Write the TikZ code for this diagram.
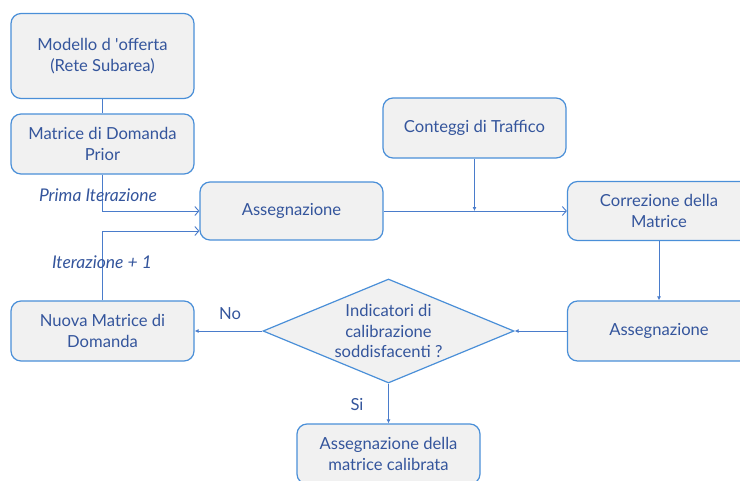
\documentclass[tikz,border=0pt]{standalone}
\usepackage{fontspec}
\setmainfont{Lato}
\usetikzlibrary{shapes.geometric,arrows.meta}
\definecolor{bord}{HTML}{4A8FD8}
\definecolor{linec}{HTML}{4A7CCB}
\definecolor{boxfill}{HTML}{F1F1F1}
\definecolor{txtc}{HTML}{34559C}
\tikzset{
  stepbox/.style={draw=bord, fill=boxfill, line width=1.2pt, rounded corners=10pt,
    minimum width=183pt, minimum height=60pt, align=center, text=txtc,
    font=\fontsize{16.6}{21}\selectfont, inner sep=2pt},
  dia/.style={draw=bord, fill=boxfill, line width=1.2pt, diamond, minimum width=251pt,
    minimum height=104pt, inner sep=0pt},
  conn/.style={draw=linec, line width=0.9pt},
  openarr/.style={conn, -{Straight Barb[length=4pt,width=9pt]}},
  fillarr/.style={conn, -{Latex[length=4pt,width=4pt]}},
  lab/.style={text=txtc, font=\fontsize{16.6}{20.5}\selectfont},
  ilab/.style={text=txtc, font=\fontsize{17.5}{20}\selectfont\itshape},
}
\begin{document}
\begin{tikzpicture}[x=1pt,y=-1pt]
\useasboundingbox (0,0) rectangle (740,480);
\clip (0,0) rectangle (740,480);
\node[stepbox, minimum height=85pt] (m1) at (102.5,56) {Modello d \textquotesingle offerta\\(Rete Subarea)};
\node[stepbox] (m2) at (102.5,144) {Matrice di Domanda\\Prior};
\node[stepbox, minimum height=58pt] (as1) at (291.5,211) {Assegnazione};
\node[stepbox] (ct) at (474.5,128) {Conteggi di Traffico};
\node[stepbox, minimum height=59pt] (cor) at (659,211) {Correzione della\\Matrice};
\node[stepbox] (as2) at (659,331) {Assegnazione};
\node[stepbox] (nm) at (102.5,331) {Nuova Matrice di\\Domanda};
\node[dia] (d) at (388.5,331) {};
\node[lab, align=center] (dt) at (d.center) {Indicatori di\\calibrazione\\soddisfacenti ?};
\node[stepbox] (fin) at (388.5,454) {Assegnazione della\\matrice calibrata};
\coordinate (j) at (ct.south |- as1.east);
\draw[conn] (m1.south) -- (m2.north);
\draw[openarr] (m2.south) |- (as1.west);
\draw[openarr] (nm.north) |- ([yshift=-20pt]as1.west);
\draw[openarr] (as1.east) -- (cor.west);
\draw[fillarr] (ct.south) -- (j);
\draw[fillarr] (cor.south) -- (as2.north);
\draw[fillarr] (as2.west) -- (d.east);
\draw[fillarr] (d.west) -- (nm.east);
\draw[fillarr] (d.south) -- (fin.north);
\node[ilab] (l1) at (98,195) {Prima Iterazione};
\node[ilab] (l2) at (102,262) {Iterazione + 1};
\node[lab] (no) at (230,314) {No};
\node[lab] (si) at (357,405) {Si};
\end{tikzpicture}
\end{document}
